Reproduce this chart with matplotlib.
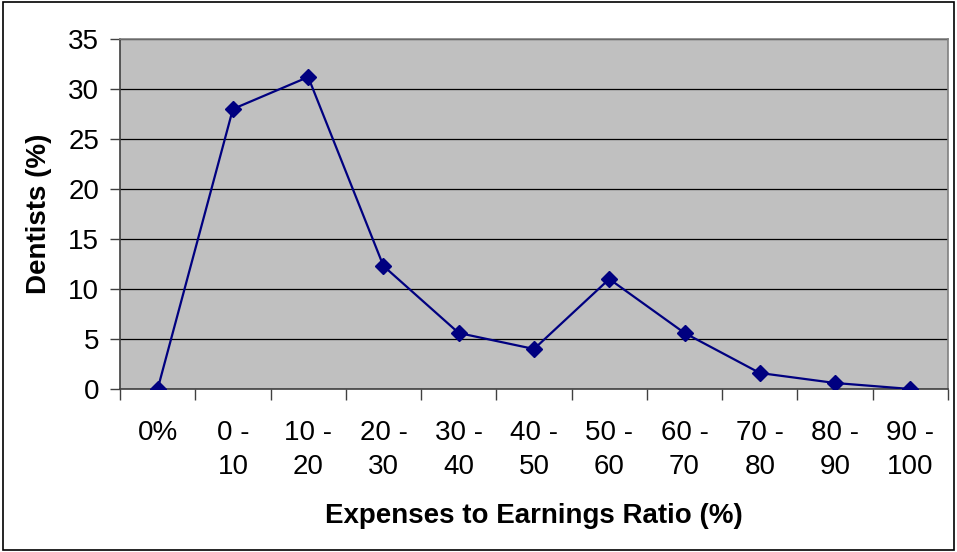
import matplotlib.pyplot as plt
from matplotlib.patches import Rectangle

plt.rcParams['font.family'] = ['Liberation Sans', 'DejaVu Sans']

# categories and values
categories = ['0%', '0 -\n10', '10 -\n20', '20 -\n30', '30 -\n40', '40 -\n50',
              '50 -\n60', '60 -\n70', '70 -\n80', '80 -\n90', '90 -\n100']
dentists = [0, 28.0, 31.2, 12.3, 5.6, 4.0, 11.0, 5.6, 1.6, 0.6, 0]

fig = plt.figure(figsize=(9.57, 5.52), dpi=100)
ax = fig.add_axes([0.1254, 0.2953, 0.8652, 0.634])
ax.set_facecolor('#C0C0C0')

x = list(range(len(categories)))
ax.plot(x, dentists, color='#000080', lw=1.6, marker='D', ms=8.5,
        markerfacecolor='#000080', markeredgecolor='#000080', zorder=3)

ax.set_xlim(-0.5, len(categories) - 0.5)
ax.set_ylim(0, 35)
ax.set_yticks(range(0, 36, 5))
ax.yaxis.grid(True, color='black', lw=0.9)
ax.set_axisbelow(True)

ax.set_xticks(x)
ax.set_xticklabels(categories, fontsize=20, linespacing=1.4)
ax.set_xticks([i - 0.5 for i in range(len(categories) + 1)], minor=True)
ax.tick_params(axis='x', which='major', length=0, pad=22)
ax.tick_params(axis='x', which='minor', length=8, width=1, color='#404040', direction='out')
ax.tick_params(axis='y', labelsize=20, length=7, width=1, color='#404040', pad=8)

for s in ['left', 'bottom']:
    ax.spines[s].set_color('#404040')
    ax.spines[s].set_linewidth(1.2)
for s in ['top', 'right']:
    ax.spines[s].set_color('#808080')
    ax.spines[s].set_linewidth(1.2)

ax.set_ylabel('Dentists (%)', fontsize=20, fontweight='bold', labelpad=12)
ax.set_xlabel('Expenses to Earnings Ratio (%)', fontsize=20, fontweight='bold', labelpad=17)

# outer frame around the chart
fig.patches.append(Rectangle((0.003, 0.003), 0.994, 0.994, transform=fig.transFigure,
                             fill=False, edgecolor='black', lw=1.2))

fig.savefig('out.png', dpi=100)
